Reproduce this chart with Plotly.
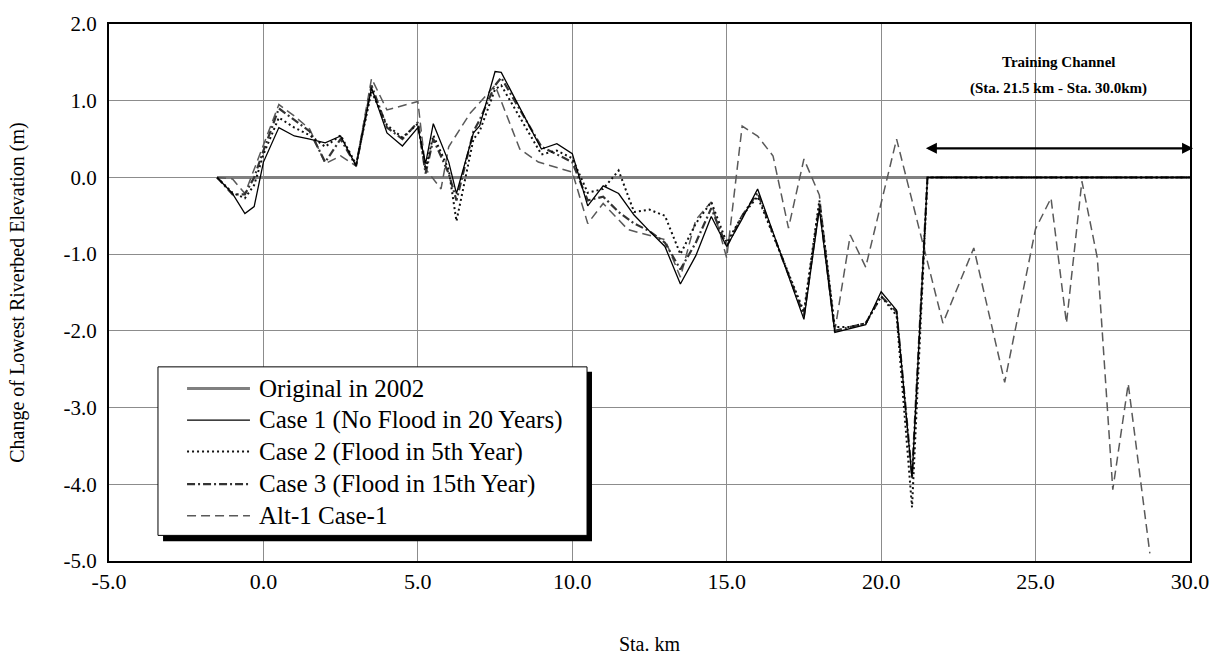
import plotly.graph_objects as go

# ---------------- data ----------------
orig_x = [-1.5, 30.0]
orig_y = [0.0, 0.0]

case_x = [-1.5, -1.0, -0.6, -0.3, 0.0, 0.5, 1.0, 1.5, 2.0, 2.5, 3.0, 3.5, 4.0, 4.5, 5.0,
          5.25, 5.5, 6.0, 6.25, 6.8, 7.0, 7.5, 7.7, 9.0, 9.5, 10.0, 10.5, 11.0, 11.5, 12.0,
          12.5, 13.0, 13.5, 14.0, 14.5, 15.0, 15.5, 16.0, 17.5, 18.0, 18.5, 19.0, 19.5, 20.0,
          20.5, 21.0, 21.5, 30.0]

case1_y = [0.0, -0.21, -0.47, -0.38, 0.2, 0.65, 0.54, 0.50, 0.45, 0.54, 0.15, 1.17, 0.58, 0.41, 0.65,
           0.18, 0.70, 0.20, -0.21, 0.58, 0.67, 1.38, 1.37, 0.37, 0.44, 0.31, -0.37, -0.11, -0.21, -0.49,
           -0.70, -0.90, -1.39, -1.02, -0.51, -0.90, -0.54, -0.15, -1.85, -0.41, -2.02, -1.97, -1.92, -1.49,
           -1.73, -3.92, 0.0, 0.0]

case2_y = [0.0, -0.20, -0.27, -0.10, 0.30, 0.78, 0.65, 0.55, 0.40, 0.55, 0.17, 1.12, 0.68, 0.52, 0.70,
           0.10, 0.55, 0.10, -0.57, 0.50, 0.60, 1.15, 1.20, 0.30, 0.35, 0.25, -0.20, -0.15, 0.09, -0.45,
           -0.42, -0.50, -1.00, -0.60, -0.32, -0.85, -0.50, -0.25, -1.75, -0.30, -1.95, -1.95, -1.90, -1.55,
           -1.80, -4.30, 0.0, 0.0]

case3_y = [0.0, -0.22, -0.22, 0.0, 0.35, 0.90, 0.75, 0.60, 0.20, 0.50, 0.15, 1.20, 0.65, 0.50, 0.72,
           0.05, 0.50, 0.05, -0.30, 0.60, 0.75, 1.20, 1.30, 0.40, 0.30, 0.20, -0.30, -0.25, -0.45, -0.60,
           -0.70, -0.85, -1.20, -0.85, -0.40, -0.90, -0.50, -0.20, -1.80, -0.35, -2.00, -1.95, -1.90, -1.55,
           -1.75, -3.90, 0.0, 0.0]

alt_x = [-1.5, -1.0, -0.6, 0.5, 1.0, 1.5, 2.0, 2.5, 3.0, 3.5, 4.0, 5.0, 5.25, 5.75, 6.0, 6.7, 7.5,
         8.3, 8.9, 10.0, 10.5, 11.0, 11.8, 13.0, 13.5, 14.0, 14.5, 15.0, 15.5, 16.0, 16.5, 17.0,
         17.5, 18.0, 18.5, 19.0, 19.5, 20.5, 21.0, 21.5, 22.0, 23.0, 24.0, 25.0, 25.5, 26.0, 26.5,
         27.0, 27.5, 28.0, 28.7]
alt_y = [0.0, -0.02, -0.21, 0.95, 0.80, 0.63, 0.18, 0.28, 0.15, 1.29, 0.88, 0.99, 0.11, -0.15, 0.40, 0.84, 1.20,
         0.37, 0.20, 0.07, -0.60, -0.34, -0.68, -0.81, -1.30, -0.55, -0.32, -1.05, 0.67, 0.54, 0.28, -0.66,
         0.24, -0.23, -2.00, -0.75, -1.17, 0.50, -0.30, -1.10, -1.90, -0.92, -2.67, -0.67, -0.27, -1.90, -0.05,
         -1.05, -4.07, -2.69, -4.90]

names = ["Original in 2002", "Case 1 (No Flood in 20 Years)", "Case 2 (Flood in 5th Year)",
         "Case 3 (Flood in 15th Year)", "Alt-1 Case-1"]

x_ticks = [-5, 0, 5, 10, 15, 20, 25, 30]
y_ticks = [2, 1, 0, -1, -2, -3, -4, -5]

channel_start, channel_end, arrow_y = 21.4, 30.1, 0.38

FONT = "Liberation Serif"

# line styles (same order as names)
styles = [
    dict(color="#808080", width=3),
    dict(color="black", width=1.3),
    dict(color="#111111", width=2, dash="2px,3px"),
    dict(color="#333333", width=2.2, dash="8px,3px,2px,3px"),
    dict(color="#595959", width=1.5, dash="9px,5px"),
]

fig = go.Figure()
fig.add_trace(go.Scatter(x=orig_x, y=orig_y, mode="lines", name=names[0], line=styles[0]))
fig.add_trace(go.Scatter(x=alt_x, y=alt_y, mode="lines", name=names[4], line=styles[4]))
fig.add_trace(go.Scatter(x=case_x, y=case3_y, mode="lines", name=names[3], line=styles[3]))
fig.add_trace(go.Scatter(x=case_x, y=case2_y, mode="lines", name=names[2], line=styles[2]))
fig.add_trace(go.Scatter(x=case_x, y=case1_y, mode="lines", name=names[1], line=styles[1]))

fig.update_layout(
    width=1221, height=666,
    margin=dict(l=109, r=31, t=16, b=105),
    paper_bgcolor="white", plot_bgcolor="white",
    font=dict(family=FONT, color="black", size=17),
    showlegend=False,
)

fig.update_xaxes(range=[-5, 30], tickvals=x_ticks, ticktext=[f"{v:.1f}" for v in x_ticks],
                 showgrid=True, gridcolor="#8c8c8c", gridwidth=1,
                 showline=True, linecolor="black", linewidth=2, mirror=True,
                 zeroline=False, ticks="", tickfont=dict(size=22),
                 title=dict(text="Sta. km", font=dict(size=20), standoff=44))
fig.update_yaxes(range=[-5, 2], tickvals=y_ticks, ticktext=[f"{v:.1f}" for v in y_ticks],
                 showgrid=True, gridcolor="#8c8c8c", gridwidth=1,
                 showline=True, linecolor="black", linewidth=2, mirror=True,
                 zeroline=False, ticks="", tickfont=dict(size=21), ticklabeloverflow="allow",
                 ticklabelstandoff=6,
                 title=dict(text="Change of Lowest Riverbed Elevation (m)", font=dict(size=20), standoff=34))

# ---- legend box drawn in paper coordinates ----
fig.add_shape(type="rect", xref="paper", yref="paper",
              x0=0.050, x1=0.4468, y0=0.0367, y1=0.3523,
              fillcolor="black", line=dict(width=0), layer="above")
fig.add_shape(type="rect", xref="paper", yref="paper",
              x0=0.0453, x1=0.4422, y0=0.0477, y1=0.3615,
              fillcolor="white", line=dict(color="black", width=1), layer="above")
row_y = [0.3211, 0.2624, 0.2037, 0.1431, 0.0844]
for name, st, ry in zip(names, styles, row_y):
    fig.add_shape(type="line", xref="paper", yref="paper",
                  x0=0.0722, x1=0.1304, y0=ry, y1=ry,
                  line=st, layer="above")
    fig.add_annotation(x=0.1369, y=ry, xref="paper", yref="paper", text=name,
                       showarrow=False, xanchor="left", yanchor="middle",
                       font=dict(family=FONT, size=25, color="black"))

# training channel annotation
fig.add_annotation(x=channel_end, y=arrow_y, ax=channel_start, ay=arrow_y,
                   xref="x", yref="y", axref="x", ayref="y", text="",
                   showarrow=True, arrowhead=2, arrowside="end+start",
                   arrowwidth=2.2, arrowsize=1, arrowcolor="black")
fig.add_annotation(x=(channel_start + channel_end) / 2, y=1.50, xref="x", yref="y",
                   text="<b>Training Channel</b>", showarrow=False,
                   font=dict(family=FONT, size=15))
fig.add_annotation(x=(channel_start + channel_end) / 2, y=1.16, xref="x", yref="y",
                   text="<b>(Sta. 21.5 km - Sta. 30.0km)</b>", showarrow=False,
                   font=dict(family=FONT, size=15))

fig.write_html("out.html", config={"displayModeBar": False},
               post_script="document.body.style.margin='0px';")
